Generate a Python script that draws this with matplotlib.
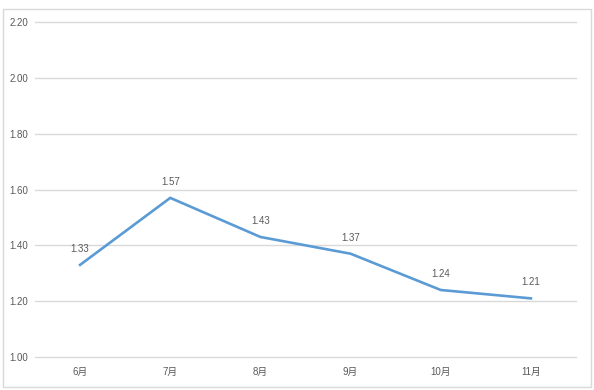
import matplotlib
matplotlib.use('Agg')
import matplotlib.pyplot as plt
from matplotlib.patches import Rectangle
import numpy as np

plt.rcParams['font.family'] = ['Liberation Sans', 'Noto Sans CJK SC']

months = ['6月', '7月', '8月', '9月', '10月', '11月']
values = [1.33, 1.57, 1.43, 1.37, 1.24, 1.21]
yticks = [1.00, 1.20, 1.40, 1.60, 1.80, 2.00, 2.20]

line_color = '#5B9BD5'
grid_color = '#D9D9D9'
text_color = '#595959'

fig = plt.figure(figsize=(5.94, 3.90), dpi=100)
fig.patches.append(Rectangle((3 / 594, 3 / 390), 588 / 594, 378 / 390,
                             transform=fig.transFigure, fill=False,
                             edgecolor=grid_color, linewidth=1))
ax = fig.add_axes([35 / 594, 33 / 390, 541 / 594, 335 / 390])

x = np.arange(len(months))
ax.plot(x, values, color=line_color, linewidth=1.9, solid_joinstyle='round')
for xi, v in zip(x, values):
    ax.annotate(f'{v:.2f}', (xi, v), xytext=(0, 8), textcoords='offset points',
                ha='center', va='bottom', fontsize=7, color=text_color)

ax.set_xlim(-0.5, len(months) - 0.5)
ax.set_ylim(1.0, 2.2)
ax.set_yticks(yticks)
ax.set_yticklabels([f'{t:.2f}' for t in yticks])
ax.set_xticks(x)
ax.set_xticklabels(months)
ax.tick_params(axis='both', length=0, labelsize=7, colors=text_color)
ax.tick_params(axis='y', pad=5)
ax.tick_params(axis='x', pad=7)
ax.grid(axis='y', color=grid_color, linewidth=1)
for gl in ax.get_ygridlines():
    gl.set_clip_on(False)
ax.set_axisbelow(True)
for s in ax.spines.values():
    s.set_visible(False)

fig.savefig('out.png', dpi=100)
